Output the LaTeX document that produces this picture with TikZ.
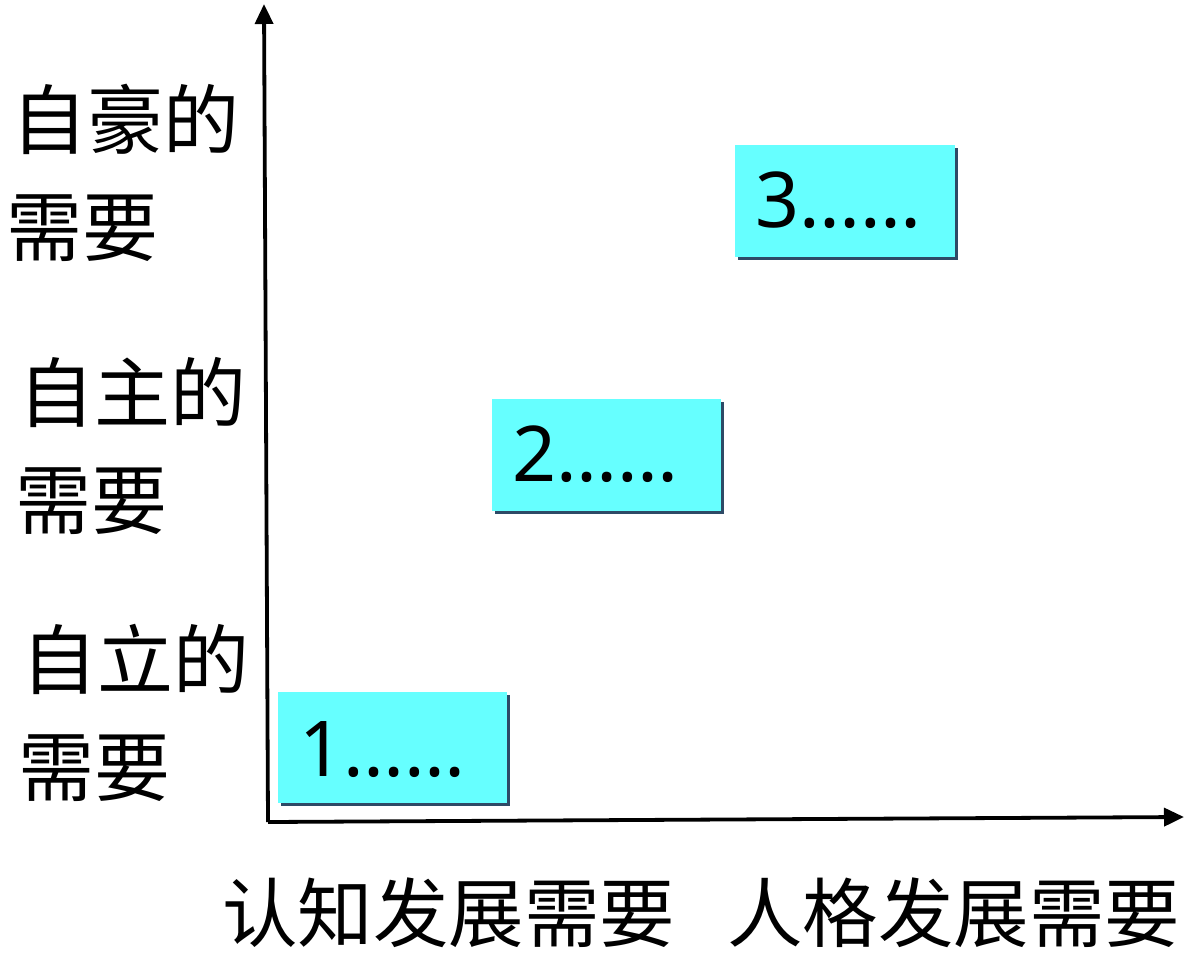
\documentclass[tikz,border=0pt]{standalone}
\usepackage{fontspec}
\setmainfont{Noto Sans}
\newfontfamily\cjk{Noto Sans CJK SC}
\usetikzlibrary{arrows.meta}
\definecolor{boxfill}{HTML}{66FFFF}
\definecolor{boxshadow}{HTML}{2E4A66}
\tikzset{
  axis/.style={line width=3.8pt, -{Triangle[length=20pt,width=18pt]}},
  lbl/.style={font=\cjk\fontsize{76}{90}\selectfont, inner sep=0pt, anchor=base west},
  xlbl/.style={font=\cjk\fontsize{75.5}{90}\selectfont, inner sep=0pt, anchor=base west},
  num/.style={font=\fontsize{77}{90}\selectfont, inner sep=0pt, anchor=base west},
  boxshad/.style={fill=boxshadow, draw=none},
  boxface/.style={fill=boxfill, draw=none},
}
\begin{document}
\begin{tikzpicture}[x=1pt,y=-1pt]
\useasboundingbox (0,0) rectangle (1184,954);
% axes
\coordinate (O) at (268,822);
\coordinate (ytop) at (264,4);
\coordinate (xend) at (1184,817);
\draw[axis] (O) -- (ytop);
\draw[axis] (O) -- (xend);
% boxes
\fill[boxshad] (738,148) rectangle (958,260);
\fill[boxface] (735,145) rectangle (955,257);
\fill[boxshad] (495,402) rectangle (724,514);
\fill[boxface] (492,399) rectangle (721,511);
\fill[boxshad] (281,695) rectangle (510,806);
\fill[boxface] (278,692) rectangle (507,803);
\node[num] (t3) at (755,227) {3……};
\node[num] (t2) at (512,481) {2……};
\node[num] (t1) at (299,776) {1……};
% y labels
\node[lbl] (y3a) at (11,148.5) {自豪的};
\node[lbl] (y3b) at (6,255) {需要};
\node[lbl] (y2a) at (18,421.5) {自主的};
\node[lbl] (y2b) at (15,528) {需要};
\node[lbl] (y1a) at (21,688) {自立的};
\node[lbl] (y1b) at (18,795) {需要};
% x labels
\node[xlbl] (x1) at (222,941) {认知发展需要};
\node[xlbl] (x2) at (727,941) {人格发展需要};
\end{tikzpicture}
\end{document}
